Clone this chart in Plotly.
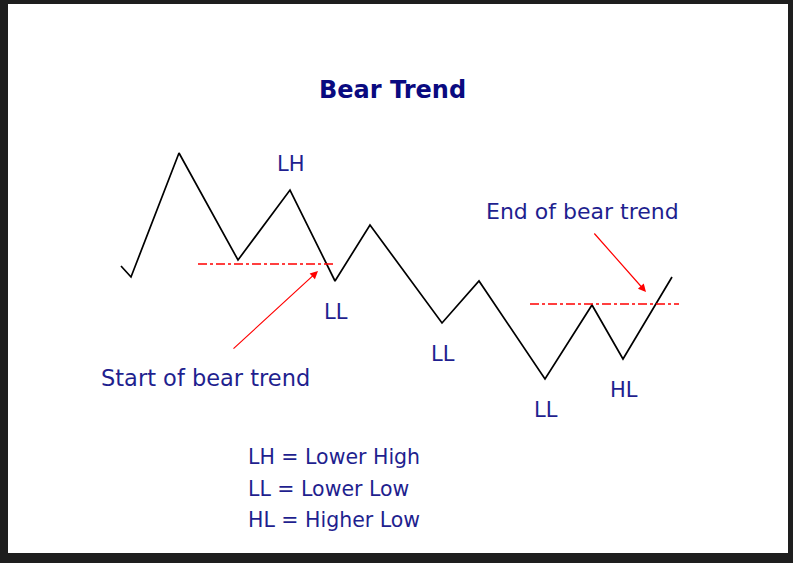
import plotly.graph_objects as go

# zigzag price path (x position, price level)
swing_x = [121, 131, 179, 238, 290, 335, 370, 442, 479, 545, 592, 623, 672]
swing_y = [297, 286, 410, 303, 373, 282, 338, 240, 282, 184, 258, 204, 286]

# swing labels: pivot index -> label
pivot_idx = [4, 5, 7, 9, 11]
pivot_lbl = ["LH", "LL", "LL", "LL", "HL"]

# break levels (red dash-dot lines)
start_level = 299
start_span = [198, 335]
end_level = 259
end_span = [530, 679]

legend_lines = ["LH = Lower High", "LL = Lower Low", "HL = Higher Low"]

NAVY = "#1f1f8f"
FONT = "Comic Sans MS, DejaVu Sans, sans-serif"


def main():
    fig = go.Figure()

    fig.add_trace(go.Scatter(x=swing_x, y=swing_y, mode="lines",
                             line=dict(color="black", width=1.7),
                             hoverinfo="skip"))
    fig.add_trace(go.Scatter(x=start_span, y=[start_level, start_level], mode="lines",
                             line=dict(color="red", width=1.5, dash="dashdot"),
                             hoverinfo="skip"))
    fig.add_trace(go.Scatter(x=end_span, y=[end_level, end_level], mode="lines",
                             line=dict(color="red", width=1.5, dash="dashdot"),
                             hoverinfo="skip"))

    anns = []
    # title
    anns.append(dict(x=392, y=473, text="<b>Bear Trend</b>", showarrow=False,
                     font=dict(size=24, color="#0a0a80", family=FONT)))
    # swing labels
    for i, lbl in zip(pivot_idx, pivot_lbl):
        shift = 26 if lbl == "LH" else -31
        anns.append(dict(x=swing_x[i], y=swing_y[i], text=lbl, showarrow=False,
                         yshift=shift, xshift=1,
                         font=dict(size=21, color=NAVY, family=FONT)))
    # start / end notes
    anns.append(dict(x=205, y=185, text="Start of bear trend", showarrow=False,
                     font=dict(size=22.5, color=NAVY, family=FONT)))
    anns.append(dict(x=582, y=352, text="End of bear trend", showarrow=False,
                     font=dict(size=22, color=NAVY, family=FONT)))
    # arrows
    anns.append(dict(x=318, y=292, ax=232, ay=213, axref="x", ayref="y",
                     xref="x", yref="y", text="", showarrow=True,
                     arrowhead=2, arrowsize=1.3, arrowwidth=1.2, arrowcolor="red"))
    anns.append(dict(x=646, y=271, ax=593, ay=331, axref="x", ayref="y",
                     xref="x", yref="y", text="", showarrow=True,
                     arrowhead=2, arrowsize=1.3, arrowwidth=1.2, arrowcolor="red"))
    # legend text
    for k, t in enumerate(legend_lines):
        anns.append(dict(x=246, y=106 - k * 31.5, text=t, showarrow=False,
                         xanchor="left",
                         font=dict(size=20.5, color=NAVY, family=FONT)))

    fig.update_layout(
        width=793, height=563,
        margin=dict(l=8, r=5, t=4, b=10),
        paper_bgcolor="#1e1e1e",
        plot_bgcolor="white",
        showlegend=False,
        annotations=anns,
        xaxis=dict(range=[8, 788], visible=False, fixedrange=True),
        yaxis=dict(range=[10, 559], visible=False, fixedrange=True),
    )

    # drop the default page margin so the figure fills the window
    fig.write_html("out.html", config={"displayModeBar": False},
                   post_script="document.body.style.margin='0';")


if __name__ == "__main__":
    main()
